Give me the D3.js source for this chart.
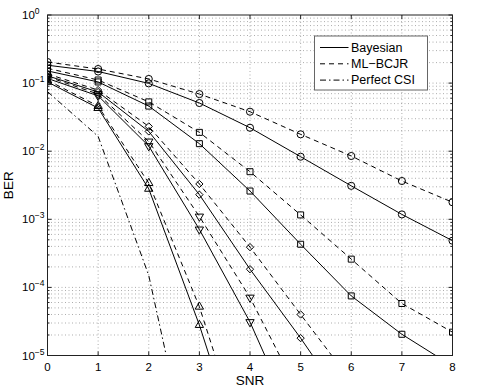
<!DOCTYPE html>
<html><head><meta charset="utf-8">
<script src="https://cdn.jsdelivr.net/npm/d3@7"></script>
<style>
body{margin:0;background:#fff;}
svg{display:block;font-family:"Liberation Sans",Arial,Helvetica,sans-serif;}
</style></head>
<body><svg id="c" width="490" height="388"></svg>
<script>
const snr = [0,1,2,3,4,5,6,7,8];
const xTicks = [0,1,2,3,4,5,6,7,8];
const yTickExps = [0,-1,-2,-3,-4,-5];
const legendLabels = ["Bayesian","ML\u2212BCJR","Perfect CSI"];

// ML-BCJR (dashed) and Bayesian (solid) pairs, by marker
const mlCircle   = [0.204,0.161,0.115,0.069,0.038,0.0177,0.0085,0.00365,0.00178];
const bayCircle  = [0.183,0.148,0.099,0.051,0.0221,0.0083,0.0031,0.00118,0.000485];
const mlSquare   = [0.165,0.111,0.053,0.0189,0.0050,0.00116,0.00026,5.8e-5,2.2e-5];
const baySquare  = [0.151,0.104,0.046,0.0129,0.0026,0.00043,7.5e-5,2.05e-5,7e-6];
const mlDiamond  = [0.136,0.079,0.0231,0.0033,0.00039,4.0e-5,4.2e-6];
const bayDiamond = [0.128,0.074,0.0195,0.0023,0.000185,1.8e-5,1.5e-6];
const mlTriDown  = [0.124,0.069,0.0139,0.0011,7.1e-5,2.5e-6];
const bayTriDown = [0.117,0.065,0.0119,0.00071,3.1e-5,6.6e-7];
const mlTriUp    = [0.110,0.046,0.0034,5.2e-5,2.5e-7];
const bayTriUp   = [0.104,0.043,0.0028,2.8e-5,1.4e-7];
const perfectCSI = [0.075,0.0165,1.5e-4,6e-8];

const series = [
  {v: mlCircle, m:"circle", s:"dash"}, {v: bayCircle, m:"circle", s:"solid"},
  {v: mlSquare, m:"square", s:"dash"}, {v: baySquare, m:"square", s:"solid"},
  {v: mlDiamond, m:"diamond", s:"dash"}, {v: bayDiamond, m:"diamond", s:"solid"},
  {v: mlTriDown, m:"tridown", s:"dash"}, {v: bayTriDown, m:"tridown", s:"solid"},
  {v: mlTriUp, m:"triup", s:"dash"}, {v: bayTriUp, m:"triup", s:"solid"},
  {v: perfectCSI, m:null, s:"dashdot"}
];

const L=47.5, R=452.5, T=15, B=355.5;
const svg = d3.select("#c");
const x = d3.scaleLinear().domain([0,8]).range([L,R]);
const y = d3.scaleLog().domain([1e-5,1]).range([B,T]);

const dashes = {solid:null, dash:"5,4", dashdot:"6,3,1.5,3"};

// grid
const minorVals = [];
for (let e=-5;e<0;e++) for (let k=1;k<10;k++) minorVals.push(k*Math.pow(10,e));
const g = svg.append("g");
g.selectAll("line.hg").data(minorVals.filter(v=>v>1e-5)).enter().append("line")
  .attr("x1",L).attr("x2",R).attr("y1",d=>y(d)).attr("y2",d=>y(d))
  .attr("stroke","#8a8a8a").attr("stroke-width",0.7).attr("stroke-dasharray","1,2.5");
g.selectAll("line.vg").data(xTicks.slice(1,-1)).enter().append("line")
  .attr("y1",T).attr("y2",B).attr("x1",d=>x(d)).attr("x2",d=>x(d))
  .attr("stroke","#8a8a8a").attr("stroke-width",0.7).attr("stroke-dasharray","1,2.5");

// clip
svg.append("clipPath").attr("id","cp").append("rect").attr("x",L).attr("y",T).attr("width",R-L).attr("height",B-T);
const plot = svg.append("g").attr("clip-path","url(#cp)");

const line = d3.line().x(d=>x(d.x)).y(d=>y(d.v));
const symType = {circle:d3.symbolCircle, square:d3.symbolSquare, diamond:d3.symbolDiamond2, tridown:d3.symbolTriangle, triup:d3.symbolTriangle};
const symSize = {circle:40, square:36, diamond:34, tridown:30, triup:30};

series.forEach(s=>{
  const pts = s.v.map((v,i)=>({x:snr[i], v:v}));
  plot.append("path").attr("d",line(pts)).attr("fill","none").attr("stroke","#000")
    .attr("stroke-width",1).attr("stroke-dasharray",dashes[s.s]);
  if (s.m) {
    plot.selectAll(null).data(pts.filter(p=>p.v>=1e-5)).enter().append("path")
      .attr("d", d3.symbol().type(symType[s.m]).size(symSize[s.m]))
      .attr("transform", p=>`translate(${x(p.x)},${y(p.v)})` + (s.m==="tridown"?" rotate(180)":""))
      .attr("fill","none").attr("stroke","#000").attr("stroke-width",1);
  }
});

// axes box & ticks
const ax = svg.append("g").attr("stroke","#222").attr("stroke-width",1);
ax.append("rect").attr("x",L).attr("y",T).attr("width",R-L).attr("height",B-T).attr("fill","none");
xTicks.forEach(t=>{
  ax.append("line").attr("x1",x(t)).attr("x2",x(t)).attr("y1",B).attr("y2",B-4);
  ax.append("line").attr("x1",x(t)).attr("x2",x(t)).attr("y1",T).attr("y2",T+4);
});
minorVals.concat([1]).forEach(v=>{
  const isMaj = Math.abs(Math.log10(v)-Math.round(Math.log10(v)))<1e-9;
  const len = isMaj?4:2;
  ax.append("line").attr("x1",L).attr("x2",L+len).attr("y1",y(v)).attr("y2",y(v));
  ax.append("line").attr("x1",R).attr("x2",R-len).attr("y1",y(v)).attr("y2",y(v));
});

// tick labels
svg.selectAll("text.xt").data(xTicks).enter().append("text")
  .attr("x",d=>x(d)).attr("y",371).attr("text-anchor","middle")
  .attr("font-size",11.5).attr("fill","#000").text(d=>d);
yTickExps.forEach(e=>{
  const t = svg.append("text").attr("x",22).attr("y",y(Math.pow(10,e))+4)
    .attr("font-size",11.5).attr("fill","#000");
  t.append("tspan").text("10");
  t.append("tspan").attr("dy",-5).attr("font-size",8.5).text(e===0?"0":"\u2212"+(-e));
});

svg.append("text").attr("x",(L+R)/2).attr("y",385).attr("text-anchor","middle")
  .attr("font-size",13.5).text("SNR");
svg.append("text").attr("transform",`translate(13,${(T+B)/2}) rotate(-90)`)
  .attr("text-anchor","middle").attr("font-size",13.5).text("BER");

// legend
const lg = svg.append("g");
lg.append("rect").attr("x",314.5).attr("y",36).attr("width",113).attr("height",54)
  .attr("fill","#fff").attr("stroke","#666").attr("stroke-width",1);
const lstyles = ["solid","dash","dashdot"];
legendLabels.forEach((lab,i)=>{
  const yy = 47.5 + i*16.3;
  lg.append("line").attr("x1",320).attr("x2",348.5).attr("y1",yy).attr("y2",yy)
    .attr("stroke","#000").attr("stroke-width",1).attr("stroke-dasharray",dashes[lstyles[i]]);
  lg.append("text").attr("x",351).attr("y",yy+4.3).attr("font-size",12.5).text(lab);
});
</script></body></html>
